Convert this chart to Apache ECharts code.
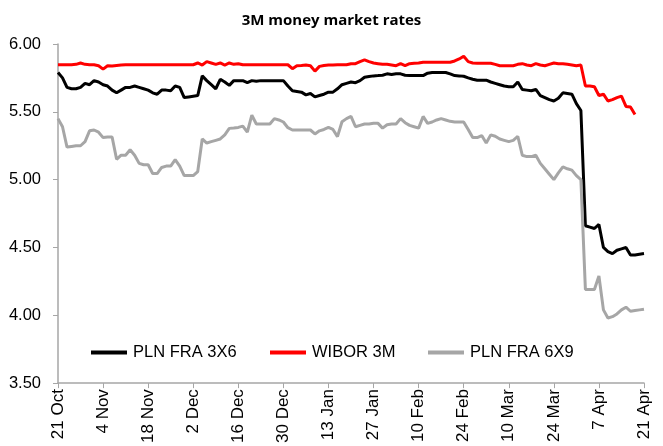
<!DOCTYPE html>
<html>
<head>
<meta charset="utf-8">
<script src="https://cdn.jsdelivr.net/npm/echarts@6/dist/echarts.min.js"></script>
<style>
  html, body { margin: 0; padding: 0; background: #fff; }
  #chart { width: 663px; height: 446px; }
</style>
</head>
<body>
<div id="chart"></div>
<script>
// business days 21 Oct 2024 .. 21 Apr 2025, labelled like "21 Oct"
const monthNames = ['Jan', 'Feb', 'Mar', 'Apr', 'May', 'Jun', 'Jul', 'Aug', 'Sep', 'Oct', 'Nov', 'Dec']
const startDate = new Date(2024, 9, 21)
const endDate = new Date(2025, 3, 21)
const dates = []
for (let d = new Date(startDate); d <= endDate; d.setDate(d.getDate() + 1)) {
  const wd = d.getDay()
  if (wd !== 0 && wd !== 6) dates.push(d.getDate() + ' ' + monthNames[d.getMonth()])
}

const yTicks = [3.5, 4.0, 4.5, 5.0, 5.5, 6.0]

const fra3x6 = [
  5.79, 5.75, 5.68, 5.67, 5.67, 5.68, 5.71, 5.70, 5.73, 5.72,
  5.70, 5.69, 5.66, 5.64, 5.66, 5.68, 5.68, 5.69, 5.68, 5.67,
  5.66, 5.64, 5.63, 5.66, 5.66, 5.655, 5.69, 5.68, 5.605, 5.61,
  5.615, 5.62, 5.765, 5.73, 5.70, 5.67, 5.74, 5.72, 5.695, 5.73,
  5.73, 5.73, 5.715, 5.73, 5.725, 5.73, 5.73, 5.73, 5.73, 5.73,
  5.73, 5.69, 5.655, 5.65, 5.645, 5.625, 5.635, 5.61, 5.62, 5.63,
  5.645, 5.645, 5.67, 5.70, 5.71, 5.72, 5.715, 5.73, 5.755, 5.76,
  5.765, 5.767, 5.77, 5.78, 5.775, 5.78, 5.78, 5.77, 5.767, 5.767,
  5.767, 5.767, 5.785, 5.79, 5.79, 5.79, 5.79, 5.78, 5.767, 5.765,
  5.762, 5.75, 5.74, 5.733, 5.733, 5.733, 5.72, 5.71, 5.70, 5.69,
  5.685, 5.685, 5.72, 5.665, 5.66, 5.655, 5.665, 5.62, 5.605, 5.59,
  5.58, 5.60, 5.64, 5.635, 5.63, 5.56, 5.51, 4.66, 4.65, 4.64,
  4.67, 4.50, 4.47, 4.455, 4.48, 4.49, 4.50, 4.445, 4.445, 4.45,
  4.455
]

const wibor3m = [
  5.847, 5.847, 5.847, 5.847, 5.85, 5.86, 5.85, 5.847, 5.847, 5.84,
  5.815, 5.84, 5.838, 5.842, 5.845, 5.847, 5.847, 5.847, 5.847, 5.847,
  5.847, 5.847, 5.847, 5.847, 5.847, 5.847, 5.847, 5.847, 5.847, 5.847,
  5.847, 5.86, 5.845, 5.87, 5.86, 5.85, 5.86, 5.845, 5.86, 5.85,
  5.855, 5.847, 5.847, 5.847, 5.847, 5.847, 5.847, 5.847, 5.847, 5.847,
  5.847, 5.847, 5.818, 5.84, 5.842, 5.845, 5.84, 5.80, 5.835, 5.842,
  5.845, 5.845, 5.847, 5.847, 5.847, 5.855, 5.855, 5.87, 5.883, 5.87,
  5.86, 5.855, 5.85, 5.85, 5.845, 5.84, 5.855, 5.84, 5.855, 5.858,
  5.86, 5.866, 5.866, 5.866, 5.866, 5.866, 5.866, 5.866, 5.875, 5.89,
  5.91, 5.87, 5.86, 5.858, 5.858, 5.858, 5.858, 5.85, 5.84, 5.84,
  5.84, 5.84, 5.85, 5.855, 5.845, 5.84, 5.855, 5.845, 5.84, 5.85,
  5.86, 5.855, 5.855, 5.85, 5.845, 5.84, 5.845, 5.69, 5.69, 5.685,
  5.62, 5.63, 5.58, 5.59, 5.605, 5.616, 5.54, 5.535, 5.48, null,
  null
]

const fra6x9 = [
  5.45, 5.39, 5.24, 5.245, 5.25, 5.25, 5.28, 5.36, 5.366, 5.35,
  5.31, 5.315, 5.315, 5.15, 5.18, 5.18, 5.22, 5.18, 5.12, 5.11,
  5.11, 5.045, 5.045, 5.09, 5.10, 5.10, 5.147, 5.10, 5.03, 5.03,
  5.03, 5.06, 5.30, 5.27, 5.28, 5.29, 5.30, 5.33, 5.378, 5.38,
  5.385, 5.395, 5.35, 5.475, 5.41, 5.41, 5.41, 5.41, 5.45, 5.44,
  5.425, 5.383, 5.366, 5.366, 5.366, 5.366, 5.366, 5.337, 5.36, 5.37,
  5.385, 5.37, 5.317, 5.427, 5.45, 5.466, 5.39, 5.40, 5.41, 5.41,
  5.415, 5.415, 5.38, 5.405, 5.41, 5.41, 5.45, 5.42, 5.40, 5.39,
  5.38, 5.466, 5.415, 5.425, 5.44, 5.45, 5.44, 5.43, 5.425, 5.425,
  5.425, 5.37, 5.31, 5.31, 5.325, 5.27, 5.33, 5.32, 5.30, 5.29,
  5.28, 5.29, 5.32, 5.18, 5.17, 5.17, 5.18, 5.12, 5.08, 5.04,
  5.00, 5.05, 5.094, 5.08, 5.07, 5.03, 5.00, 4.19, 4.19, 4.19,
  4.29, 4.04, 3.98, 3.99, 4.01, 4.04, 4.06, 4.03, 4.035, 4.04,
  4.045
]

// narrow face is not always there, Liberation Sans at a smaller size keeps the widths
const labelFont = '"Liberation Sans Narrow", "Arial Narrow", "Liberation Sans", Arial, sans-serif'
const axisGray = '#a6a6a6'

const chart = echarts.init(document.getElementById('chart'))

const legendBase = {
  orient: 'horizontal',
  top: 339,
  itemWidth: 36,
  itemHeight: 4,
  itemGap: 0,
  icon: 'rect',
  textStyle: { color: '#000', fontSize: 16.5, fontFamily: labelFont, padding: [0, 0, 0, 1] },
  selectedMode: false,
}

chart.setOption({
  animation: false,
  title: {
    text: '3M money market rates',
    left: 'center',
    top: 8,
    textStyle: { fontSize: 15, fontWeight: 'bold', fontFamily: '"Open Sans", sans-serif', color: '#000' },
  },
  legend: [
    { ...legendBase, left: 86, data: ['PLN FRA 3X6'] },
    { ...legendBase, left: 265, data: ['WIBOR 3M'] },
    { ...legendBase, left: 423, data: ['PLN FRA 6X9'] },
  ],
  grid: {
    top: 44,
    left: 58,
    right: 19,
    bottom: 59,
  },
  xAxis: {
    type: 'category',
    data: dates,
    boundaryGap: false,
    axisLine: { lineStyle: { color: axisGray, width: 1.5 } },
    axisTick: { interval: 9, length: 5, lineStyle: { color: axisGray } },
    axisLabel: {
      interval: 9,
      rotate: 90,
      margin: 6,
      color: '#000',
      fontSize: 17,
      fontFamily: labelFont,
      showMaxLabel: true,
    },
    splitLine: { show: false },
  },
  yAxis: {
    type: 'value',
    min: yTicks[0],
    max: yTicks[yTicks.length - 1],
    interval: 0.5,
    axisLine: { show: true, lineStyle: { color: axisGray, width: 1.5 } },
    axisTick: { show: true, length: 5, lineStyle: { color: axisGray } },
    axisLabel: {
      color: '#000',
      fontSize: 16.5,
      fontFamily: labelFont,
      margin: 17,
      formatter: (v) => v.toFixed(2),
    },
    splitLine: { show: false },
  },
  series: [
    {
      name: 'PLN FRA 3X6',
      type: 'line',
      data: fra3x6,
      showSymbol: false,
      lineStyle: { color: '#000', width: 3 },
      itemStyle: { color: '#000' },
    },
    {
      name: 'WIBOR 3M',
      type: 'line',
      data: wibor3m,
      showSymbol: false,
      lineStyle: { color: '#ff0000', width: 3 },
      itemStyle: { color: '#ff0000' },
    },
    {
      name: 'PLN FRA 6X9',
      type: 'line',
      data: fra6x9,
      showSymbol: false,
      lineStyle: { color: '#a6a6a6', width: 3 },
      itemStyle: { color: '#a6a6a6' },
    },
  ],
})
</script>
</body>
</html>
